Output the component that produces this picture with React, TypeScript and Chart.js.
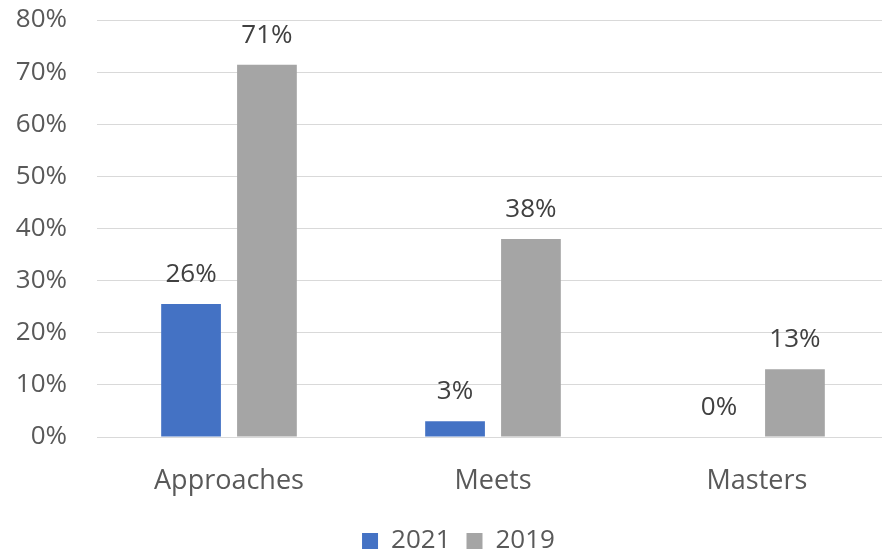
import React, { useEffect, useRef } from "react";
import { Chart, registerables } from "chart.js";

Chart.register(...registerables);

const categories = ["Approaches", "Meets", "Masters"];
const series2021 = [25.5, 3, 0];
const series2019 = [71.4, 38, 13];
const labels2021 = ["26%", "3%", "0%"];
const labels2019 = ["71%", "38%", "13%"];
const seriesNames = ["2021", "2019"];

const FONT = "'Open Sans', 'Liberation Sans', sans-serif";
const CANVAS_W = 889;
const CANVAS_H = 555;

const dataLabelPlugin = {
  id: "dataLabels",
  afterDatasetsDraw(chart: any) {
    const ctx = chart.ctx;
    const texts = [labels2021, labels2019];
    ctx.save();
    ctx.font = `26px ${FONT}`;
    ctx.fillStyle = "#404040";
    ctx.textAlign = "center";
    ctx.textBaseline = "alphabetic";
    chart.data.datasets.forEach((_ds: any, di: number) => {
      const meta = chart.getDatasetMeta(di);
      meta.data.forEach((bar: any, i: number) => {
        ctx.fillText(texts[di][i], bar.x, bar.y - 22);
      });
    });
    ctx.restore();
  },
};

// Fix legend box height so the legend sits near the bottom edge, and nudge it right.
const legendLayoutPlugin = {
  id: "legendLayout",
  beforeUpdate(chart: any) {
    const lg = chart.legend;
    if (lg && !lg.__patched) {
      const origFit = lg.fit;
      lg.fit = function () {
        origFit.call(this);
        this.height = 43;
      };
      lg.__patched = true;
    }
  },
  beforeDraw(chart: any) {
    const lg = chart.legend;
    if (lg && !lg.__shifted) {
      lg.left += 14;
      lg.right += 14;
      lg.__shifted = true;
    }
  },
};

export default function App() {
  const ref = useRef<HTMLCanvasElement>(null);
  useEffect(() => {
    if (!ref.current) return;
    const chart = new Chart(ref.current, {
      type: "bar",
      data: {
        labels: categories,
        datasets: [
          { label: seriesNames[0], data: series2021, backgroundColor: "#4472C4" },
          { label: seriesNames[1], data: series2019, backgroundColor: "#A5A5A5" },
        ],
      },
      plugins: [dataLabelPlugin, legendLayoutPlugin],
      options: {
        responsive: false,
        animation: false,
        layout: { padding: { top: 0, left: 0, right: 0, bottom: 0 } },
        datasets: { bar: { categoryPercentage: 0.575, barPercentage: 0.787 } },
        scales: {
          x: {
            grid: { display: false, drawTicks: false },
            border: { display: true, color: "#d9d9d9", width: 1 },
            ticks: { color: "#595959", font: { family: FONT, size: 27 }, padding: 28 },
            afterFit: (s: any) => { s.height = 75; },
          },
          y: {
            min: 0,
            max: 80,
            ticks: {
              stepSize: 10,
              color: "#595959",
              font: { family: FONT, size: 26 },
              padding: 30,
              callback: (v: any) => `${v}%`,
            },
            grid: { color: "#d9d9d9", lineWidth: 1, drawTicks: false },
            border: { display: false },
            afterFit: (s: any) => {
              s.width = 97;
              s.paddingTop = 20;
              s.paddingBottom = 0;
            },
          },
        },
        plugins: {
          legend: {
            position: "bottom",
            labels: {
              color: "#595959",
              font: { family: FONT, size: 26 },
              boxWidth: 16,
              boxHeight: 16,
              padding: 16,
            },
          },
          tooltip: { enabled: false },
        },
      } as any,
    });
    return () => chart.destroy();
  }, []);
  return (
    <div style={{ position: "fixed", left: 0, top: 0, width: 882, height: 555, overflow: "hidden", background: "#fff" }}>
      <canvas ref={ref} width={CANVAS_W} height={CANVAS_H} style={{ width: CANVAS_W, height: CANVAS_H, display: "block" }} />
    </div>
  );
}
